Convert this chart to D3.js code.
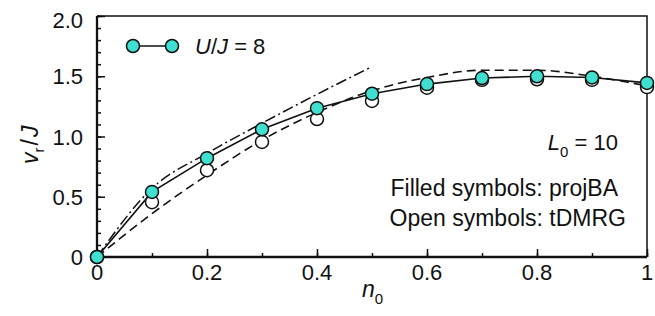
<!DOCTYPE html>
<html>
<head>
<meta charset="utf-8">
<script src="https://cdn.jsdelivr.net/npm/d3@7"></script>
<style>
  body { margin: 0; background: #fff; }
  svg text { font-family: "Liberation Sans", Arial, sans-serif; fill: #111; }
</style>
</head>
<body>
<div id="chart"></div>
<script>
// density n0 (shared by both symbol sets)
const n0 = [0, 0.1, 0.2, 0.3, 0.4, 0.5, 0.6, 0.7, 0.8, 0.9, 1.0];
// filled symbols: projBA
const projBA = [0, 0.54, 0.82, 1.06, 1.235, 1.355, 1.435, 1.485, 1.5, 1.49, 1.445];
// open symbols: tDMRG
const tDMRG = [0, 0.455, 0.72, 0.955, 1.145, 1.295, 1.405, 1.47, 1.475, 1.47, 1.41];
// dashed reference curve
const dashN = [0, 0.1, 0.2, 0.3, 0.4, 0.5, 0.6, 0.7, 0.8, 0.9, 1.0];
const dashV = [0, 0.36, 0.68, 0.97, 1.2, 1.38, 1.49, 1.55, 1.55, 1.5, 1.42];
// dash-dot small-density curve
const dotN = [0, 0.1, 0.2, 0.3, 0.4, 0.5];
const dotV = [0, 0.57, 0.86, 1.11, 1.35, 1.58];

const xTicks = [0, 0.2, 0.4, 0.6, 0.8, 1];
const xTickLabels = ['0', '0.2', '0.4', '0.6', '0.8', '1'];
const yTicks = [0, 0.5, 1, 1.5, 2];
const yTickLabels = ['0', '0.5', '1.0', '1.5', '2.0'];

const W = 655, H = 316;
const margin = { top: 16, right: 8, bottom: 59, left: 97 };
const width = W - margin.left - margin.right;
const height = H - margin.top - margin.bottom;
const teal = '#40e0d0';
const fs = 22;

const svg = d3.select('#chart').append('svg')
  .attr('width', W)
  .attr('height', H);

const g = svg.append('g')
  .attr('transform', `translate(${margin.left},${margin.top})`);

const x = d3.scaleLinear().domain([0, 1]).range([0, width]);
const y = d3.scaleLinear().domain([0, 2]).range([height, 0]);

// top and right frame
g.append('path')
  .attr('d', `M0,0H${width}V${height}`)
  .attr('fill', 'none')
  .attr('stroke', '#111')
  .attr('stroke-width', 1.5);

// minor ticks, inside
g.append('g')
  .attr('transform', `translate(0,${height})`)
  .call(d3.axisTop(x).tickValues(d3.range(0, 1.01, 0.1)).tickSize(4).tickFormat(''))
  .call(a => a.select('.domain').remove());
g.append('g')
  .call(d3.axisRight(y).tickValues(d3.range(0, 2.01, 0.1)).tickSize(4).tickFormat(''))
  .call(a => a.select('.domain').remove());

// major ticks, inside
g.append('g')
  .attr('transform', `translate(0,${height})`)
  .call(d3.axisTop(x).tickValues(xTicks).tickSize(8).tickFormat(''))
  .call(a => a.select('.domain').remove());
g.append('g')
  .call(d3.axisRight(y).tickValues(yTicks).tickSize(8).tickFormat(''))
  .call(a => a.select('.domain').remove());

g.selectAll('.tick line').attr('stroke', '#111').attr('stroke-width', 1.5);

// axis lines
g.append('line')
  .attr('x1', 0).attr('x2', width).attr('y1', height).attr('y2', height)
  .attr('stroke', '#111').attr('stroke-width', 2.3);
g.append('line')
  .attr('x1', 0).attr('x2', 0).attr('y1', 0).attr('y2', height)
  .attr('stroke', '#111').attr('stroke-width', 2.3);

// tick labels
g.selectAll('.xlab').data(xTicks).join('text')
  .attr('x', d => x(d))
  .attr('y', height + 23)
  .attr('text-anchor', 'middle')
  .attr('font-size', fs)
  .text((d, i) => xTickLabels[i]);
g.selectAll('.ylab').data(yTicks).join('text')
  .attr('x', -14)
  .attr('y', d => y(d) + 8 + (d === 2 ? 4 : 0))
  .attr('text-anchor', 'end')
  .attr('font-size', fs)
  .text((d, i) => yTickLabels[i]);

// axis titles
const xt = svg.append('text')
  .attr('x', 362)
  .attr('y', 297)
  .attr('font-size', 23);
xt.append('tspan').attr('font-style', 'italic').text('n');
xt.append('tspan').attr('font-size', 15).attr('dy', 7).text('0');

const yt = svg.append('text')
  .attr('transform', 'translate(38,164) rotate(-90)')
  .attr('font-size', 23);
yt.append('tspan').attr('font-style', 'italic').text('v');
yt.append('tspan').attr('font-size', 15).attr('dy', 6).text('r');
yt.append('tspan').attr('dy', -6).attr('dx', 2).text('/');
yt.append('tspan').attr('dx', 2).attr('font-style', 'italic').text('J');

// curves
const line = d3.line().x(d => x(d[0])).y(d => y(d[1]));
const smooth = d3.line().x(d => x(d[0])).y(d => y(d[1])).curve(d3.curveMonotoneX);

g.append('path')
  .datum(dashN.map((n, i) => [n, dashV[i]]))
  .attr('d', smooth)
  .attr('fill', 'none').attr('stroke', '#111').attr('stroke-width', 1.6)
  .attr('stroke-dasharray', '9,5');

g.append('path')
  .datum(dotN.map((n, i) => [n, dotV[i]]))
  .attr('d', smooth)
  .attr('fill', 'none').attr('stroke', '#111').attr('stroke-width', 1.5)
  .attr('stroke-dasharray', '11,3.5,2,3.5');

g.append('path')
  .datum(n0.map((n, i) => [n, projBA[i]]))
  .attr('d', line)
  .attr('fill', 'none').attr('stroke', '#111').attr('stroke-width', 1.6);

// open symbols (tDMRG)
g.selectAll('.open').data(n0.map((n, i) => [n, tDMRG[i]])).join('circle')
  .attr('cx', d => x(d[0])).attr('cy', d => y(d[1])).attr('r', 6.5)
  .attr('fill', '#fff').attr('stroke', '#111').attr('stroke-width', 1.5);

// filled symbols (projBA)
g.selectAll('.filled').data(n0.map((n, i) => [n, projBA[i]])).join('circle')
  .attr('cx', d => x(d[0])).attr('cy', d => y(d[1])).attr('r', 6.5)
  .attr('fill', teal).attr('stroke', '#111').attr('stroke-width', 1.5);

// legend
const leg = svg.append('g');
leg.append('line')
  .attr('x1', 133).attr('x2', 172).attr('y1', 46).attr('y2', 46)
  .attr('stroke', '#111').attr('stroke-width', 1.6);
leg.selectAll('circle').data([133, 172]).join('circle')
  .attr('cx', d => d).attr('cy', 46).attr('r', 6.5)
  .attr('fill', teal).attr('stroke', '#111').attr('stroke-width', 1.5);
const lt = leg.append('text').attr('x', 195).attr('y', 54).attr('font-size', fs);
lt.append('tspan').attr('font-style', 'italic').text('U');
lt.append('tspan').text('/');
lt.append('tspan').attr('font-style', 'italic').text('J');
lt.append('tspan').text(' = 8');

// annotations
const l0 = svg.append('text').attr('x', 618).attr('y', 150)
  .attr('text-anchor', 'end').attr('font-size', fs);
l0.append('tspan').attr('font-style', 'italic').text('L');
l0.append('tspan').attr('font-size', 15).attr('dy', 7).text('0');
l0.append('tspan').attr('dy', -7).text(' = 10');

svg.append('text').attr('x', 618).attr('y', 196)
  .attr('text-anchor', 'end').attr('font-size', 23)
  .text('Filled symbols: projBA');
svg.append('text').attr('x', 626).attr('y', 226)
  .attr('text-anchor', 'end').attr('font-size', 23)
  .text('Open symbols: tDMRG');
</script>
</body>
</html>
